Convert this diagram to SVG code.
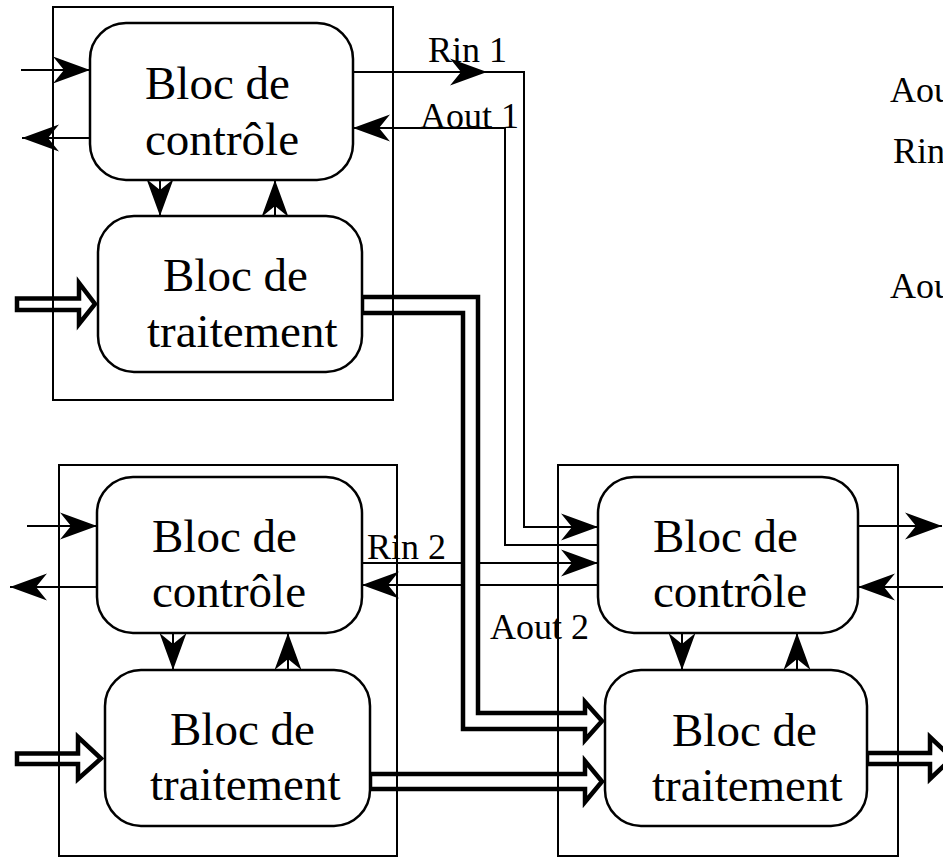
<svg xmlns="http://www.w3.org/2000/svg" width="943" height="858" viewBox="0 0 943 858">
<defs>
<style>
.thin{fill:none;stroke:#000;stroke-width:2;marker-end:url(#ah)}
.plain{fill:none;stroke:#000;stroke-width:2}
.blk{fill:#fff;stroke:#000;stroke-width:4.5;stroke-linejoin:miter;stroke-miterlimit:6}
.mod{fill:none;stroke:#000;stroke-width:2}
.node{fill:#fff;stroke:#000;stroke-width:2.5}
.big{font-family:"Liberation Serif","Times New Roman",serif;font-size:47px;fill:#000}
.lbl{font-family:"Liberation Serif","Times New Roman",serif;font-size:36px;fill:#000}
</style>
<marker id="ah" markerUnits="userSpaceOnUse" viewBox="-38 -15 40 30" refX="0" refY="0" markerWidth="40" markerHeight="30" orient="auto" overflow="visible">
<path d="M0,0 L-37,-13.5 L-26,0 L-37,13.5 Z" fill="#000"/>
</marker>
</defs>
<rect width="943" height="858" fill="#fff"/>

<g id="connectors">
<!-- top-left module external I/O -->
<path class="thin" d="M21,70 H90"/>
<path class="thin" d="M90,138 H22"/>
<path class="thin" d="M160,180 V216"/>
<path class="thin" d="M275,216 V180"/>
<!-- bottom-left module -->
<path class="thin" d="M27,526 H97"/>
<path class="thin" d="M97,587 H10"/>
<path class="thin" d="M173,633 V670"/>
<path class="thin" d="M288,670 V633"/>
<!-- bottom-right module -->
<path class="thin" d="M858,526 H942"/>
<path class="thin" d="M943,587 H858"/>
<path class="thin" d="M682,633 V670"/>
<path class="thin" d="M797,670 V633"/>
<!-- Rin 1 -->
<path class="thin" d="M353,72 H487"/>
<path class="thin" d="M487,72 H524 V527 H598"/>
<!-- Aout 1 -->
<path class="thin" d="M598,545 H505 V128 H353"/>
<!-- Rin 2 / Aout 2 -->
<path class="thin" d="M362,563 H598"/>
<path class="thin" d="M598,585 H362"/>
<!-- data block arrows -->
<polygon class="blk" points="17,298.5 79,298.5 79,283 95,304 79,324 79,310 17,310"/>
<polygon class="blk" points="17,753.5 78,753.5 78,737 101,758.5 78,779 78,764 17,764"/>
<polygon class="blk" points="362,297 478,297 478,713 585,713 585,702 602,721 585,740 585,729 463,729 463,313 362,313"/>
<polygon class="blk" points="370,774 585,774 585,761 602,781.5 585,802 585,789 370,789"/>
<polygon class="blk" points="867,753 930,753 930,737 952,758 930,779 930,764 867,764"/>
</g>

<g id="module-top-left">
<rect class="mod" x="53" y="7" width="340" height="393"/>
</g>
<g id="module-bottom-left">
<rect class="mod" x="59" y="465" width="338" height="391"/>
</g>
<g id="module-bottom-right">
<rect class="mod" x="558" y="465" width="340" height="391"/>
</g>

<g id="ctrl-top-left">
<rect class="node" x="90" y="23" width="263" height="157" rx="36" ry="36"/>
<text class="big" x="145" y="99">Bloc de</text>
<text class="big" x="145" y="155">contrôle</text>
</g>
<g id="trait-top-left">
<rect class="node" x="98" y="216" width="264" height="156" rx="36" ry="36"/>
<text class="big" x="163" y="291">Bloc de</text>
<text class="big" x="147" y="347">traitement</text>
</g>
<g id="ctrl-bottom-left">
<rect class="node" x="97" y="477" width="265" height="156" rx="36" ry="36"/>
<text class="big" x="152" y="552">Bloc de</text>
<text class="big" x="152" y="607">contrôle</text>
</g>
<g id="trait-bottom-left">
<rect class="node" x="105" y="670" width="265" height="156" rx="36" ry="36"/>
<text class="big" x="170" y="745">Bloc de</text>
<text class="big" x="150" y="800">traitement</text>
</g>
<g id="ctrl-bottom-right">
<rect class="node" x="598" y="477" width="260" height="156" rx="36" ry="36"/>
<text class="big" x="653" y="552">Bloc de</text>
<text class="big" x="653" y="607">contrôle</text>
</g>
<g id="trait-bottom-right">
<rect class="node" x="605" y="670" width="262" height="156" rx="36" ry="36"/>
<text class="big" x="672" y="746">Bloc de</text>
<text class="big" x="652" y="801">traitement</text>
</g>

<g id="labels">
<text class="lbl" x="428" y="62">Rin 1</text>
<text class="lbl" x="420" y="128">Aout 1</text>
<text class="lbl" x="367" y="559">Rin 2</text>
<text class="lbl" x="490" y="639">Aout 2</text>
<text class="lbl" x="890" y="102">Aou</text>
<text class="lbl" x="893" y="163">Rin</text>
<text class="lbl" x="890" y="298">Aou</text>
</g>
</svg>
